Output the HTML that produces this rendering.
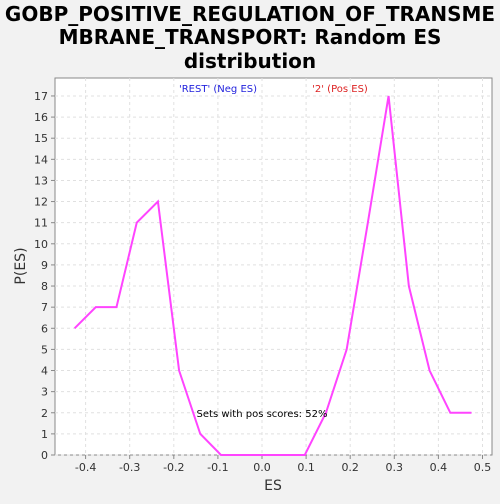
<!DOCTYPE html>
<html><head><meta charset="utf-8"><style>
body{margin:0;background:#f2f2f2;font-family:"DejaVu Sans","Liberation Sans",sans-serif;}
</style></head><body>
<svg width="500" height="500" xmlns="http://www.w3.org/2000/svg">
<rect width="500" height="500" fill="#f2f2f2"/>
<text x="250" y="21" text-anchor="middle" font-size="20" font-weight="bold" fill="#000">GOBP_POSITIVE_REGULATION_OF_TRANSME</text>
<text x="250" y="44" text-anchor="middle" font-size="20" font-weight="bold" fill="#000">MBRANE_TRANSPORT: Random ES</text>
<text x="250" y="68" text-anchor="middle" font-size="20" font-weight="bold" fill="#000">distribution</text>
<rect x="55" y="78" width="437" height="377" fill="#fff" stroke="#888"/>
<g id="grid"></g><g id="axes"></g>
<polyline id="line" fill="none" stroke="#ff44ff" stroke-width="2"/>
<text x="218" y="92" text-anchor="middle" font-size="10" fill="#2222dd">'REST' (Neg ES)</text>
<text x="340" y="92" text-anchor="middle" font-size="10" fill="#dd2222">'2' (Pos ES)</text>
<text x="262" y="417" text-anchor="middle" font-size="10" fill="#000">Sets with pos scores: 52%</text>
<text x="273" y="490" text-anchor="middle" font-size="14" fill="#333">ES</text>
<text x="25" y="266" text-anchor="middle" font-size="14" fill="#333" transform="rotate(-90 25 266)">P(ES)</text>
</svg>
<script>
const xs=[-0.425,-0.377,-0.33,-0.284,-0.236,-0.188,-0.14,-0.093,-0.045,0.002,0.05,0.097,0.145,0.192,0.24,0.287,0.333,0.38,0.427,0.475];
const ys=[6,7,7,11,12,4,1,0,0,0,0,0,2,5,11,17,8,4,2,2];
const xTicks=[-0.4,-0.3,-0.2,-0.1,0.0,0.1,0.2,0.3,0.4,0.5];
const yTicks=[0,1,2,3,4,5,6,7,8,9,10,11,12,13,14,15,16,17];
const NS="http://www.w3.org/2000/svg";
function X(v){return 262+v*441;}
function Y(v){return 455-v*21.12;}
const grid=document.getElementById('grid'),axes=document.getElementById('axes');
function mk(tag,attrs,parent){const e=document.createElementNS(NS,tag);for(const k in attrs)e.setAttribute(k,attrs[k]);parent.appendChild(e);return e;}
xTicks.forEach(t=>{
 const g=mk('line',{x1:X(t),x2:X(t),y1:78,y2:455,stroke:'#e0e0e0','stroke-dasharray':'3,3'},grid);
 
 
 const tk=mk('line',{x1:X(t),x2:X(t),y1:455,y2:459,stroke:'#888'},axes);
 
 
 const l=mk('text',{x:X(t),y:471,'text-anchor':'middle','font-size':11,fill:'#333'},axes);
 l.textContent=t.toFixed(1);
 
 
});
yTicks.forEach(t=>{
 const g=mk('line',{x1:55,x2:492,y1:Y(t),y2:Y(t),stroke:'#e0e0e0','stroke-dasharray':'3,3'},grid);
 
 
 const tk=mk('line',{x1:51,x2:55,y1:Y(t),y2:Y(t),stroke:'#888'},axes);
 
 
 const l=mk('text',{x:48,y:Y(t)+4,'text-anchor':'end','font-size':11,fill:'#333'},axes);
 l.textContent=t;
 
 
});
document.getElementById('line').setAttribute('points',xs.map((x,i)=>X(x)+','+Y(ys[i])).join(' '));
</script>
</body></html>
